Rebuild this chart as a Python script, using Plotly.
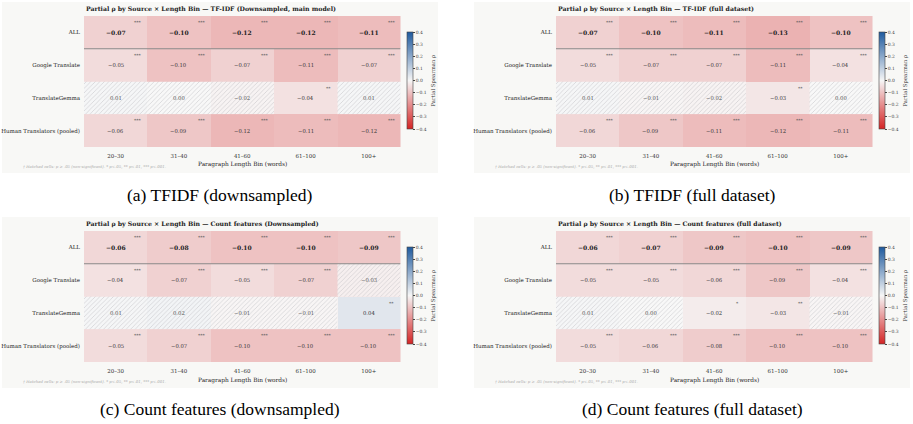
import plotly.graph_objects as go

W, H = 913, 424

# ---------------- data ----------------
bins = ["20–30", "31–40", "41–60", "61–100", "100+"]
sources = ["ALL", "Google Translate", "TranslateGemma", "Human Translators (pooled)"]

tfidf_down = [
    [-0.07, -0.10, -0.12, -0.12, -0.11],
    [-0.05, -0.10, -0.07, -0.11, -0.07],
    [0.01, 0.00, -0.02, -0.04, 0.01],
    [-0.06, -0.09, -0.12, -0.11, -0.12],
]
tfidf_down_sig = [
    ["***", "***", "***", "***", "***"],
    ["***", "***", "***", "***", "***"],
    ["", "", "", "**", ""],
    ["***", "***", "***", "***", "***"],
]
tfidf_full = [
    [-0.07, -0.10, -0.11, -0.13, -0.10],
    [-0.05, -0.07, -0.07, -0.11, -0.04],
    [0.01, -0.01, -0.02, -0.03, 0.00],
    [-0.06, -0.09, -0.11, -0.12, -0.11],
]
tfidf_full_sig = [
    ["***", "***", "***", "***", "***"],
    ["***", "***", "***", "***", "***"],
    ["", "", "", "**", ""],
    ["***", "***", "***", "***", "***"],
]
count_down = [
    [-0.06, -0.08, -0.10, -0.10, -0.09],
    [-0.04, -0.07, -0.05, -0.07, -0.03],
    [0.01, 0.02, -0.01, -0.01, 0.04],
    [-0.05, -0.07, -0.10, -0.10, -0.10],
]
count_down_sig = [
    ["***", "***", "***", "***", "***"],
    ["***", "***", "***", "***", ""],
    ["", "", "", "", "**"],
    ["***", "***", "***", "***", "***"],
]
count_full = [
    [-0.06, -0.07, -0.09, -0.10, -0.09],
    [-0.05, -0.05, -0.06, -0.09, -0.04],
    [0.01, 0.00, -0.02, -0.03, -0.01],
    [-0.05, -0.06, -0.08, -0.10, -0.10],
]
count_full_sig = [
    ["***", "***", "***", "***", "***"],
    ["***", "***", "***", "***", "***"],
    ["", "", "*", "**", ""],
    ["***", "***", "***", "***", "***"],
]

panel_titles = [
    "Partial ρ by Source × Length Bin — TF-IDF (Downsampled, main model)",
    "Partial ρ by Source × Length Bin — TF-IDF (full dataset)",
    "Partial ρ by Source × Length Bin — Count features (Downsampled)",
    "Partial ρ by Source × Length Bin — Count features (full dataset)",
]
captions = [
    "(a) TFIDF (downsampled)",
    "(b) TFIDF (full dataset)",
    "(c) Count features (downsampled)",
    "(d) Count features (full dataset)",
]
cbar_ticks = [0.4, 0.3, 0.2, 0.1, 0.0, -0.1, -0.2, -0.3, -0.4]
x_title = "Paragraph Length Bin (words)"
cbar_title = "Partial Spearman ρ"
footnote = "† Hatched cells: p ≥ .05 (non-significant). * p<.05, ** p<.01, *** p<.001."

panels = [
    (tfidf_down, tfidf_down_sig),
    (tfidf_full, tfidf_full_sig),
    (count_down, count_down_sig),
    (count_full, count_full_sig),
]

# ---------------- styling / layout ----------------
F = "DejaVu Serif"
CAPF = "Liberation Serif"
colorscale = [[0.0, "#d42424"], [0.5, "#f6f6f6"], [1.0, "#1f5a9e"]]
offsets = [(0, 0), (472, 0), (0, 215), (472, 215)]


def px(x):
    return x / W


def py(y):
    return 1 - y / H


fig = go.Figure()
layout = {}
shapes = []
annotations = []

for k, ((vals, sig), (dx, dy)) in enumerate(zip(panels, offsets)):
    sfx = "" if k == 0 else str(k + 1)
    xa, ya = "x" + sfx, "y" + sfx
    hx0, hx1 = 84 + dx, 400.5 + dx
    hy0, hy1 = 16 + dy, 147 + dy

    # background panel
    shapes.append(dict(type="rect", xref="paper", yref="paper",
                       x0=px(2 + dx), x1=px(438 + dx), y0=py(173 + dy), y1=py(2 + dy),
                       fillcolor="#f8f8f6", line=dict(width=0), layer="below"))

    fig.add_trace(go.Heatmap(
        z=vals, x=list(range(len(bins))), y=list(range(len(sources))),
        xaxis=xa, yaxis=ya, zmin=-0.4, zmax=0.4, colorscale=colorscale,
        hoverinfo="skip",
        colorbar=dict(x=px(407 + dx), xanchor="left", y=py(80.5 + dy), yanchor="middle",
                      len=97, lenmode="pixels", thickness=6, thicknessmode="pixels",
                      xpad=0, ypad=0, outlinewidth=0.6, outlinecolor="#444",
                      tickvals=cbar_ticks, tickformat=".1f", ticks="outside", ticklen=2,
                      tickwidth=0.6, tickcolor="#444",
                      tickfont=dict(size=4.5, family=F, color="#444")),
    ))

    # hatch for non-significant cells
    hxs, hbs = [], []
    for i in range(len(sources)):
        for j in range(len(bins)):
            if sig[i][j] == "":
                hxs.append(j)
                hbs.append(i - 0.5)
    fig.add_trace(go.Bar(
        x=hxs, y=[1] * len(hxs), base=hbs, width=1, xaxis=xa, yaxis=ya,
        marker=dict(color="rgba(0,0,0,0)", line=dict(width=0),
                    pattern=dict(shape="/", fgcolor="rgba(175,175,178,0.85)",
                                 bgcolor="rgba(250,250,250,0.45)", size=3.2, solidity=0.28)),
        showlegend=False, hoverinfo="skip"))

    layout["xaxis" + sfx] = dict(domain=[px(hx0), px(hx1)], range=[-0.5, 4.5],
                                 tickvals=list(range(len(bins))), ticktext=bins,
                                 anchor=ya, showgrid=False, zeroline=False, showline=False,
                                 ticks="", ticklabelstandoff=4,
                                 tickfont=dict(size=5.5, family=F, color="#333"),
                                 fixedrange=True)
    layout["yaxis" + sfx] = dict(domain=[py(hy1), py(hy0)], range=[3.5, -0.5],
                                 tickvals=list(range(len(sources))), ticktext=sources,
                                 anchor=xa, showgrid=False, zeroline=False, showline=False,
                                 ticks="", ticklabelstandoff=3,
                                 tickfont=dict(size=5.5, family=F, color="#222"),
                                 fixedrange=True)

    # separator below ALL row
    shapes.append(dict(type="line", xref=xa, yref=ya, x0=-0.5, x1=4.5, y0=0.5, y1=0.5,
                       line=dict(color="#8a8a8a", width=1.1), layer="above"))

    # cell texts
    for i in range(len(sources)):
        for j in range(len(bins)):
            v = vals[i][j]
            txt = f"{v:.2f}".replace("-", "−")
            bold = (i == 0)
            annotations.append(dict(
                x=j, y=i, xref=xa, yref=ya, showarrow=False,
                text=f"<b>{txt}</b>" if bold else txt,
                font=dict(size=6 if bold else 5.3, family=F,
                          color="#222" if bold else ("#333" if sig[i][j] else "#555"))))
            if sig[i][j]:
                annotations.append(dict(
                    x=j + 0.36, y=i - 0.3, xref=xa, yref=ya, showarrow=False,
                    text=sig[i][j], font=dict(size=4.5, family=F, color="#555")))

    # panel title
    annotations.append(dict(x=px(hx0), y=py(9 + dy), xref="paper", yref="paper",
                            xanchor="left", yanchor="middle", showarrow=False,
                            text=f"<b>{panel_titles[k]}</b>",
                            font=dict(size=6.2, family=F, color="#222")))
    # x-axis title
    annotations.append(dict(x=px((hx0 + hx1) / 2), y=py(165 + dy), xref="paper", yref="paper",
                            xanchor="center", yanchor="middle", showarrow=False,
                            text=x_title, font=dict(size=5.8, family=F, color="#222")))
    # footnote
    annotations.append(dict(x=px(21 + dx), y=py(166 + dy), xref="paper", yref="paper",
                            xanchor="left", yanchor="middle", showarrow=False,
                            text=f"<i>{footnote}</i>", font=dict(size=3.9, family=F, color="#aaaaaa")))
    # colorbar title
    annotations.append(dict(x=px(433 + dx), y=py(80.5 + dy), xref="paper", yref="paper",
                            xanchor="center", yanchor="middle", showarrow=False, textangle=-90,
                            text=cbar_title, font=dict(size=5.3, family=F, color="#333")))
    # caption
    annotations.append(dict(x=px(220 + dx), y=py(195 + dy - (1 if k >= 2 else 0)), xref="paper", yref="paper",
                            xanchor="center", yanchor="middle", showarrow=False,
                            text=captions[k], font=dict(size=17.5, family=CAPF, color="#000")))

fig.update_layout(
    width=W, height=H, autosize=False,
    margin=dict(l=0, r=0, t=0, b=0),
    paper_bgcolor="white", plot_bgcolor="#f8f8f6",
    showlegend=False, barmode="overlay",
    shapes=shapes, annotations=annotations,
    **layout,
)

fig.write_html("out.html")
